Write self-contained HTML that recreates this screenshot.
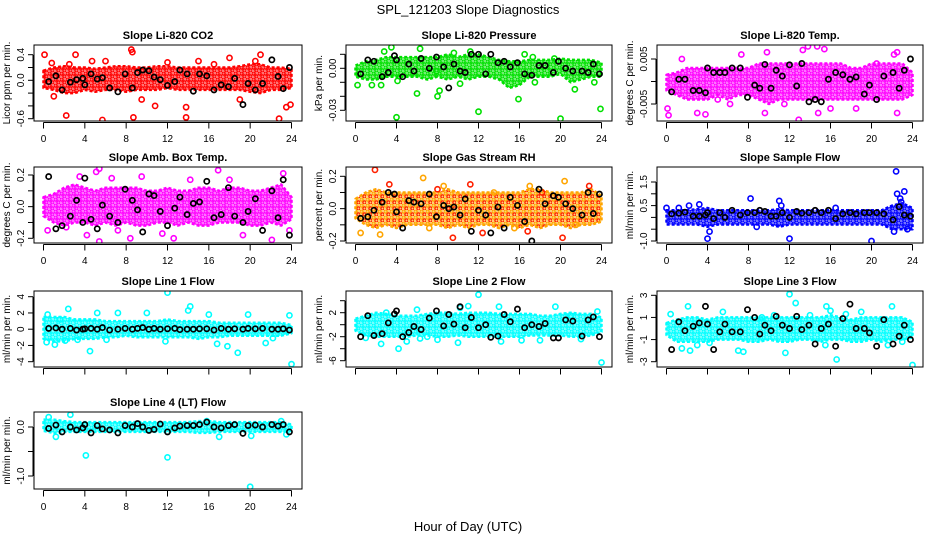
<!DOCTYPE html>
<html><head><meta charset="utf-8">
<style>
body{margin:0;background:#fff;}
svg text{font-family:"Liberation Sans",sans-serif;}
</style></head>
<body>
<svg id="c" width="936" height="540" xmlns="http://www.w3.org/2000/svg">
<defs id="defs"></defs>
<rect width="936" height="540" fill="#fff"/>
<text x="468" y="14" text-anchor="middle" font-size="13">SPL_121203  Slope Diagnostics</text>
<text x="468" y="531" text-anchor="middle" font-size="13">Hour of Day (UTC)</text>
</svg>
<script>
const bandHours=[0,1,2,3,4,5,6,7,8,9,10,11,12,13,14,15,16,17,18,19,20,21,22,23,24];
const blackHours=[0.5,1.2,1.8,2.6,3.2,3.8,4,4.6,5.2,5.7,6.4,7.2,7.9,8.6,9.1,9.6,10.2,10.7,11.3,12,12.7,13.2,13.9,14.5,15.1,15.8,16.5,17.2,17.9,18.5,19.3,19.8,20.5,21.2,22.1,22.7,23.2,23.8];
const xTicks=[0,4,8,12,16,20,24];

const co2Hi=[0.15,0.2,0.22,0.2,0.2,0.18,0.2,0.22,0.22,0.2,0.2,0.22,0.22,0.2,0.2,0.2,0.2,0.2,0.2,0.22,0.25,0.25,0.2,0.2,0.18];
const co2Lo=[-0.12,-0.15,-0.2,-0.2,-0.15,-0.18,-0.15,-0.15,-0.18,-0.15,-0.15,-0.15,-0.12,-0.15,-0.15,-0.15,-0.15,-0.15,-0.15,-0.15,-0.18,-0.2,-0.15,-0.15,-0.12];
const co2OutX=[0.1,2.2,3.1,5.7,8.5,8.7,8.6,13.8,13.8,21,22.8,23.5,23.9,1.0,10.8,6,15,20.5,4.7,18,2.5,12,16.5,9.5,19,0.8];
const co2OutY=[0.4,-0.55,0.4,-0.62,0.48,-0.58,0.44,-0.58,-0.42,0.4,-0.6,-0.42,-0.38,-0.25,-0.4,0.3,0.3,0.3,0.3,0.35,0.25,0.28,0.25,-0.3,-0.3,0.27];
const co2Black=[-0.02,0.07,-0.15,-0.03,0.01,0.03,-0.07,0.1,0.02,0.04,-0.12,-0.18,0.1,-0.12,0.12,0.16,0.15,0.05,0.01,-0.08,-0.02,0.16,0.1,-0.17,0.1,0.07,-0.15,-0.07,-0.1,0.03,-0.38,-0.05,-0.15,-0.05,0.32,0.06,-0.13,0.2];

const presHi=[0.002,0.005,0.006,0.008,0.008,0.008,0.008,0.008,0.008,0.01,0.008,0.01,0.01,0.008,0.006,0.005,0.005,0.006,0.006,0.006,0.007,0.006,0.006,0.006,0.004];
const presLo=[-0.006,-0.008,-0.008,-0.006,-0.006,-0.006,-0.006,-0.008,-0.006,-0.008,-0.006,-0.008,-0.006,-0.006,-0.008,-0.014,-0.012,-0.006,-0.006,-0.006,-0.004,-0.01,-0.008,-0.006,-0.006];
const presOutX=[0.2,2.8,3.5,4,6,6.3,8,8.2,9.6,12,11.2,15.9,16.5,17.3,17.5,19.4,20,21.4,23.3,23.9,1.6,2.5,4.1,7.9,10.2];
const presOutY=[-0.012,0.012,0.015,-0.035,-0.018,0.014,-0.02,-0.016,0.011,-0.031,0.012,-0.022,0.01,0.008,-0.01,0.007,-0.036,-0.015,-0.01,-0.029,-0.012,-0.012,-0.009,-0.002,-0.011];
const presBlack=[-0.004,0.006,0.005,-0.006,-0.003,0.009,0.006,-0.006,0.003,-0.002,0.007,0.0,0.008,0.001,-0.014,0.003,-0.002,-0.003,0.01,0.01,-0.004,0.01,0.004,0.005,0.001,0.004,-0.004,-0.005,0.002,0.002,-0.003,0.005,0.0,-0.002,-0.002,-0.003,0.003,-0.004];

const tempHi=[0.0015,0.002,0.003,0.003,0.003,0.003,0.003,0.003,0.003,0.004,0.004,0.004,0.004,0.004,0.004,0.004,0.004,0.004,0.003,0.003,0.004,0.004,0.004,0.004,0.002];
const tempLo=[-0.002,-0.003,-0.004,-0.004,-0.004,-0.003,-0.004,-0.003,-0.003,-0.004,-0.005,-0.004,-0.004,-0.004,-0.004,-0.004,-0.004,-0.004,-0.004,-0.004,-0.004,-0.004,-0.004,-0.004,-0.003];
const tempOutX=[0.1,0.2,1.5,3,3.8,5,7.3,9.8,9.6,12.9,13.3,13.8,14.7,15.4,14.8,16,18.5,22.5,22.2,22.5,6.2,11.5,20.5];
const tempOutY=[-0.006,-0.0075,0.005,-0.007,-0.0073,-0.004,0.006,0.0065,-0.007,-0.0085,0.007,0.0078,0.0078,0.0072,-0.007,-0.006,-0.006,0.0065,0.006,-0.007,-0.005,-0.005,0.004];
const tempBlack=[-0.0023,0.0005,0.0005,-0.002,-0.002,-0.0025,0.003,0.002,0.002,0.002,0.003,0.003,-0.0035,-0.0008,-0.0015,0.0038,-0.0015,0.0025,0.0012,0.0037,-0.001,0.004,-0.0045,-0.004,-0.0045,0.0005,0.002,0.0015,0.0005,0.001,-0.0028,-0.0008,-0.004,0.0012,0.002,-0.0015,0.0025,0.005];

const ambHi=[0.06,0.08,0.12,0.14,0.12,0.1,0.12,0.12,0.12,0.12,0.1,0.1,0.12,0.1,0.1,0.12,0.12,0.1,0.12,0.12,0.1,0.1,0.12,0.14,0.06];
const ambLo=[-0.06,-0.1,-0.12,-0.1,-0.1,-0.12,-0.1,-0.12,-0.1,-0.12,-0.12,-0.1,-0.1,-0.12,-0.1,-0.12,-0.12,-0.1,-0.1,-0.1,-0.12,-0.12,-0.1,-0.12,-0.08];
const ambOutX=[0.4,2.2,3.5,4.2,5.1,5.4,6.6,7.2,8.4,9.5,11.5,12.6,14.2,16.9,19.3,22.1,23.2,23.8,5.4,18];
const ambOutY=[-0.15,-0.13,0.19,-0.18,0.22,-0.22,0.18,-0.15,-0.2,0.19,-0.17,-0.2,0.17,0.23,-0.18,-0.21,0.21,-0.15,0.24,0.17];
const ambBlack=[0.19,-0.14,-0.12,-0.06,0.04,-0.1,0.18,-0.08,-0.14,0.01,-0.06,-0.1,0.11,0.04,-0.02,-0.16,0.08,0.07,-0.03,-0.12,-0.01,0.06,-0.05,0.02,0.03,0.16,-0.07,-0.05,0.12,-0.06,-0.1,-0.03,0.05,-0.15,0.1,-0.07,0.17,-0.18];

const rhHi=[0.06,0.1,0.12,0.1,0.1,0.1,0.1,0.1,0.1,0.12,0.1,0.1,0.1,0.1,0.1,0.1,0.1,0.12,0.12,0.1,0.1,0.1,0.1,0.12,0.08];
const rhLo=[-0.06,-0.1,-0.12,-0.1,-0.12,-0.1,-0.1,-0.1,-0.1,-0.12,-0.1,-0.12,-0.1,-0.1,-0.12,-0.1,-0.12,-0.1,-0.12,-0.1,-0.1,-0.12,-0.1,-0.1,-0.08];
const rhOutX=[0.5,1.9,2.4,3.3,6.6,8.0,8.6,11.2,7.2,12.4,15.5,16.8,17,18.2,20.4,20.2,21.5,22.8,13.5,9.5];
const rhOutY=[-0.15,0.24,-0.16,0.15,0.19,0.12,0.14,0.15,-0.12,-0.15,-0.12,-0.14,0.14,0.1,0.17,-0.18,-0.1,0.14,0.1,-0.18];
const rhBlack=[-0.06,-0.05,-0.01,0.04,0.1,0.09,-0.02,-0.12,0.05,0.04,0.03,0.09,-0.05,0.02,0.0,0.01,-0.04,0.06,-0.14,-0.01,-0.04,-0.15,0.01,-0.12,0.07,0.02,-0.08,-0.2,0.12,0.03,0.08,0.07,0.03,0.0,-0.04,0.1,-0.03,0.09];

const sampHi=[0.3,0.3,0.3,0.35,0.4,0.3,0.3,0.3,0.3,0.3,0.3,0.35,0.3,0.3,0.3,0.3,0.3,0.3,0.3,0.3,0.3,0.3,0.5,0.6,0.4];
const sampLo=[-0.3,-0.3,-0.3,-0.3,-0.4,-0.3,-0.3,-0.3,-0.3,-0.3,-0.3,-0.4,-0.3,-0.3,-0.3,-0.3,-0.3,-0.3,-0.3,-0.3,-0.3,-0.3,-0.5,-0.5,-0.5];
const sampOutX=[0,1.2,2.2,3.2,4,4.2,8.2,8.8,11,12,20,22.4,22.5,22.8,23.2,22.9,22.2,23.5,16.5,11.2];
const sampOutY=[0.4,0.4,0.5,0.55,-0.9,-0.6,0.8,-0.4,0.7,-0.9,-1.0,1.95,1.0,0.8,1.1,0.65,-0.6,-0.5,0.4,0.5];
const sampBlack=[0.15,0.18,0.22,0.05,0.05,0.1,0.2,-0.05,0.2,0.0,0.3,0.1,0.2,0.2,0.3,0.25,0.05,0.05,0.2,0.0,0.25,0.18,0.2,0.3,0.2,0.3,-0.05,0.15,0.2,0.15,0.2,0.2,0.2,0.15,-0.1,0.45,0.1,0.05];

const l1Hi=[1.5,1.5,1.5,1.2,1.2,1.2,1,1,1,1,1,1,1.2,1,1,1,1,0.8,0.8,0.8,0.8,0.8,0.8,0.8,0.5];
const l1Lo=[-1.2,-1.5,-1.5,-1.2,-1.2,-1.2,-1,-1,-0.8,-1,-1,-1,-1,-1,-1,-1.2,-1,-1,-0.8,-0.8,-0.8,-0.8,-0.8,-0.8,-0.5];
const l1OutX=[0.3,0.4,1.1,2.4,2.1,3.3,4.5,5.2,6.1,7.2,12,11.8,14.2,14,16.8,16,17.8,18.8,19.8,21.5,23.8,24,10,22.2,1.6];
const l1OutY=[-1.6,1.8,-1.9,2.5,-1.4,-1.3,-2.7,2.0,-1.3,2.0,4.5,-1.5,2.8,2.3,-1.8,1.8,-2.1,-2.9,1.8,-1.7,1.7,-4.3,2.0,-1.1,1.2];
const l1Black=[0.1,0.15,0.0,0.1,-0.1,0.0,0.05,0.1,0.0,0.2,-0.1,0.0,0.1,0.0,0.1,0.2,0.0,0.1,0.0,0.05,0.1,-0.05,0.0,0.0,0.05,0.05,-0.1,0.1,0.0,0.05,0.0,0.1,0.05,0.1,0.0,0.0,0.05,-0.1];

const l2Hi=[1,1.5,2,1.8,1.5,1.5,1.5,1.8,2,2,1.8,2,2,2,1.8,1.8,1.8,1.8,1.5,1.5,1.8,2,1.8,1.8,1.2];
const l2Lo=[-1,-1.8,-2,-2,-2,-2,-1.8,-1.8,-2,-2,-1.8,-2,-2,-2,-2,-2,-2,-1.8,-1.8,-1.8,-1.8,-2,-2,-1.8,-1.2];
const l2OutX=[2.5,3.0,4.2,5,6,6.3,7,8,10,10.2,12,11,14,14.2,16.2,19.5,22,23.6,24,18,21,1];
const l2OutY=[-3.2,2.0,-4,-2.8,2.5,-2.3,-2,-2.5,-3,2.8,5.0,3.1,3.0,-2.8,-2.6,3.0,-2.4,2.2,-6.3,-2.6,1.5,-2.2];
const l2Black=[-2,1.5,-1.8,-1.5,0.3,1.8,2.3,-2.0,-1.3,-0.3,-0.8,1.1,2.3,-0.2,1.7,0.1,3.0,-0.5,1.2,-0.5,0.0,-2.1,-1.9,1.7,0.5,2.6,-0.5,0.0,-0.3,0.2,-2.2,-2.2,0.8,0.6,-1.9,0.8,1.3,-2.0];

const l3Hi=[0.5,0.8,1,1,0.8,1,1,1,1,1,1,1,1,1,1,1,1.2,1,0.8,1,1,1,1,1,0.6];
const l3Lo=[-0.6,-1.2,-1.2,-1.2,-1.2,-1,-1,-1,-1.2,-1.2,-1,-1.2,-1.2,-1,-1,-1.2,-1,-1,-1.2,-1.2,-1,-1.2,-1,-1,-0.8];
const l3OutX=[0.4,1.5,2.1,2.3,3,4.2,5.5,7,7.5,9.3,11.6,12,12.6,14,15.6,15.5,16,16.6,17.5,19,22,21.6,23,24,10.5];
const l3OutY=[1.3,-1.8,2.0,-2.0,-1.5,-1.3,1.5,-2.0,-2.1,1.0,-2.2,3.1,2.3,1.2,2.0,-1.5,1.6,-2.8,1.3,1.5,2.0,-1.5,-1.2,-3.3,1.2];
const l3Black=[-1.9,0.6,-0.2,0.2,0.5,2.0,0.4,-1.9,-0.3,0.4,-0.3,-0.3,1.7,1.0,-0.5,0.3,-0.2,1.1,0.3,0.0,1.1,-0.1,0.3,-1.4,0.0,0.4,-1.6,0.9,2.2,0.0,0.0,-0.4,-1.6,0.8,-1.4,-0.7,0.3,-1.0];

const l4Hi=[0.15,0.15,0.12,0.1,0.1,0.1,0.1,0.1,0.1,0.1,0.1,0.1,0.1,0.1,0.1,0.12,0.12,0.1,0.1,0.1,0.1,0.1,0.1,0.1,0.05];
const l4Lo=[-0.08,-0.12,-0.1,-0.1,-0.1,-0.1,-0.1,-0.1,-0.1,-0.1,-0.1,-0.1,-0.1,-0.1,-0.1,-0.12,-0.12,-0.1,-0.1,-0.1,-0.1,-0.1,-0.1,-0.1,-0.08];
const l4OutX=[0.5,2.6,1.2,4.1,12,17,20,20.1,23,23.5,15.8];
const l4OutY=[0.2,0.25,-0.2,-0.58,-0.62,-0.2,-1.22,-0.18,0.12,-0.15,0.12];
const l4Black=[-0.03,0.04,-0.1,0.0,-0.06,-0.02,0.05,-0.12,0.03,-0.04,-0.06,-0.12,0.03,0.0,0.07,0.0,-0.07,-0.05,0.06,-0.1,-0.02,0.02,0.03,0.03,0.05,0.1,0.0,-0.02,0.03,0.05,-0.13,0.03,0.04,0.0,0.05,0.02,0.05,-0.1];

const NS='http://www.w3.org/2000/svg';
const svg=document.getElementById('c');
const defs=document.getElementById('defs');
function mk(tag,attrs,parent){const e=document.createElementNS(NS,tag);for(const k in attrs)e.setAttribute(k,attrs[k]);(parent||svg).appendChild(e);return e;}

const panels=[
 {key:'co2',title:'Slope Li-820 CO2',ylab:'Licor ppm per min.',col:'#ff0000',l:34,r:302,t:45,b:121,v0:0.4,p0:54.7,v1:-0.6,p1:118.7,ticks:[-0.6,-0.4,-0.2,0,0.2,0.4],labs:['-0.6','0.0','0.4'],labv:[-0.6,0,0.4],hi:co2Hi,lo:co2Lo,ox:co2OutX,oy:co2OutY,bk:co2Black},
 {key:'pressure',title:'Slope Li-820 Pressure',ylab:'kPa per min.',col:'#00e000',l:346,r:612,t:45,b:121,v0:0,p0:68.3,v1:-0.03,p1:110.3,ticks:[-0.03,-0.02,-0.01,0,0.01],labs:['-0.03','0.00'],labv:[-0.03,0],hi:presHi,lo:presLo,ox:presOutX,oy:presOutY,bk:presBlack},
 {key:'temp',title:'Slope Li-820 Temp.',ylab:'degrees C per min.',col:'#ff00ff',l:657,r:923,t:45,b:121,v0:0.005,p0:59,v1:-0.005,p1:104,ticks:[-0.005,0,0.005],labs:['-0.005','0.005'],labv:[-0.005,0.005],hi:tempHi,lo:tempLo,ox:tempOutX,oy:tempOutY,bk:tempBlack},
 {key:'amb-box-temp',title:'Slope Amb. Box Temp.',ylab:'degrees C per min.',col:'#ff00ff',l:34,r:302,t:167,b:243,v0:0.2,p0:175,v1:-0.2,p1:238.3,ticks:[-0.2,-0.1,0,0.1,0.2],labs:['-0.2','0.0','0.2'],labv:[-0.2,0,0.2],hi:ambHi,lo:ambLo,ox:ambOutX,oy:ambOutY,bk:ambBlack},
 {key:'gas-rh',title:'Slope Gas Stream RH',ylab:'percent per min.',col:'#ffa500',col2:'#ff2000',l:346,r:612,t:167,b:243,v0:0.2,p0:176.3,v1:-0.2,p1:241,ticks:[-0.2,-0.1,0,0.1,0.2],labs:['-0.2','0.0','0.2'],labv:[-0.2,0,0.2],hi:rhHi,lo:rhLo,ox:rhOutX,oy:rhOutY,bk:rhBlack},
 {key:'sample-flow',title:'Slope Sample Flow',ylab:'ml/min per min.',col:'#0000ff',l:657,r:923,t:167,b:243,v0:1.5,p0:182,v1:-1.0,p1:241,ticks:[-1,-0.5,0,0.5,1,1.5],labs:['-1.0','0.5','1.5'],labv:[-1,0.5,1.5],hi:sampHi,lo:sampLo,ox:sampOutX,oy:sampOutY,bk:sampBlack},
 {key:'line1',title:'Slope Line 1 Flow',ylab:'ml/min per min.',col:'#00ffff',l:34,r:302,t:291,b:367,v0:4,p0:296.7,v1:-4,p1:361.7,ticks:[-4,-2,0,2,4],labs:['-4','-2','0','2','4'],labv:[-4,-2,0,2,4],hi:l1Hi,lo:l1Lo,ox:l1OutX,oy:l1OutY,bk:l1Black},
 {key:'line2',title:'Slope Line 2 Flow',ylab:'ml/min per min.',col:'#00ffff',l:346,r:612,t:291,b:367,v0:2,p0:312.7,v1:-6,p1:360.7,ticks:[-6,-4,-2,0,2,4],labs:['-6','-2','2'],labv:[-6,-2,2],hi:l2Hi,lo:l2Lo,ox:l2OutX,oy:l2OutY,bk:l2Black},
 {key:'line3',title:'Slope Line 3 Flow',ylab:'ml/min per min.',col:'#00ffff',l:657,r:923,t:291,b:367,v0:3,p0:295.3,v1:-3,p1:361.7,ticks:[-3,-1,1,3],labs:['-3','-1','1','3'],labv:[-3,-1,1,3],hi:l3Hi,lo:l3Lo,ox:l3OutX,oy:l3OutY,bk:l3Black},
 {key:'line4',title:'Slope Line 4 (LT) Flow',ylab:'ml/min per min.',col:'#00ffff',l:34,r:302,t:412,b:489,v0:0,p0:427,v1:-1,p1:476,ticks:[-1,-0.5,0],labs:['-1.0','0.0'],labv:[-1,0],hi:l4Hi,lo:l4Lo,ox:l4OutX,oy:l4OutY,bk:l4Black}
];

panels.forEach(P=>{
 // texture pattern of rings
 const pid='pat-'+P.key;
 const pat=mk('pattern',{id:pid,width:6,height:6,patternUnits:'userSpaceOnUse'},defs);
 mk('rect',{width:6,height:6,fill:P.col,'fill-opacity':'0.55'},pat);
 mk('circle',{cx:1.5,cy:1.5,r:1.6,fill:'none',stroke:P.col,'stroke-width':'1.3'},pat);
 mk('circle',{cx:4.5,cy:4.5,r:1.6,fill:'none',stroke:P.col2||P.col,'stroke-width':'1.3'},pat);
 const g=mk('g',{});
 
 
 const x0=P.l+9.5, x1=P.r-10.5;
 const X=v=>x0+(x1-x0)*v/24;
 const Y=v=>P.p0+(P.p1-P.p0)*(v-P.v0)/(P.v1-P.v0);
 const clipId='clip-'+P.key;
 const cp=mk('clipPath',{id:clipId},g);mk('rect',{x:P.l,y:P.t,width:P.r-P.l,height:P.b-P.t},cp);
 const plot=mk('g',{'clip-path':'url(#'+clipId+')'},g);
 let d='';
 bandHours.forEach((h,i)=>{d+=(i?'L':'M')+X(h).toFixed(1)+','+Y(P.hi[i]).toFixed(1);});
 for(let i=bandHours.length-1;i>=0;i--)d+='L'+X(bandHours[i]).toFixed(1)+','+Y(P.lo[i]).toFixed(1);
 d+='Z';
 const band=mk('path',{d:d,fill:'url(#'+pid+')',stroke:P.col,'stroke-width':'2.5','stroke-linejoin':'round','stroke-dasharray':'3 2'},plot);
 
 
 P.ox.forEach((h,i)=>{
  const c=mk('circle',{cx:X(h),cy:Y(P.oy[i]),r:2.6,fill:'none',stroke:P.col2&&i%2?P.col2:P.col,'stroke-width':'1.6'},plot);
  
  
 });
 blackHours.forEach((h,i)=>{
  const c=mk('circle',{cx:X(h),cy:Y(P.bk[i]),r:2.6,fill:'none',stroke:'#000','stroke-width':'1.7'},plot);
  
  
 });
 const box=mk('rect',{x:P.l,y:P.t,width:P.r-P.l,height:P.b-P.t,fill:'none',stroke:'#000','stroke-width':'1'},g);
 
 
 const t=mk('text',{x:(P.l+P.r)/2,y:P.t-6,'text-anchor':'middle','font-size':'11','font-weight':'bold'},g);t.textContent=P.title;
 
 
 const ay=P.b+1.5;
 mk('line',{x1:X(0),x2:X(24),y1:ay,y2:ay,stroke:'#000','stroke-width':'1'},g);
 xTicks.forEach(v=>{
  mk('line',{x1:X(v),x2:X(v),y1:ay,y2:ay+6,stroke:'#000','stroke-width':'1'},g);
  if(P.key!=='line1'&&P.key!=='line2'&&P.key!=='line3'){
   const tx=mk('text',{x:X(v),y:P.b+21,'text-anchor':'middle','font-size':'10'},g);tx.textContent=v;
   
   
  }
 });
 const ax=P.l-1;
 mk('line',{x1:ax,x2:ax,y1:Y(P.ticks[0]),y2:Y(P.ticks[P.ticks.length-1]),stroke:'#000','stroke-width':'1'},g);
 P.ticks.forEach(v=>mk('line',{x1:ax-5,x2:ax,y1:Y(v),y2:Y(v),stroke:'#000','stroke-width':'1'},g));
 P.labv.forEach((v,i)=>{
  const yy=Y(v),xx=P.l-10;
  const tx=mk('text',{x:xx,y:yy,'text-anchor':'middle','font-size':'10',transform:'rotate(-90 '+xx+' '+yy+')'},g);tx.textContent=P.labs[i];
  
  
 });
 const lx=P.l-24, ly=(P.t+P.b)/2;
 const yl=mk('text',{x:lx,y:ly,'text-anchor':'middle','font-size':'10',transform:'rotate(-90 '+lx+' '+ly+')'},g);yl.textContent=P.ylab;
 
 
});
</script>
</body></html>
